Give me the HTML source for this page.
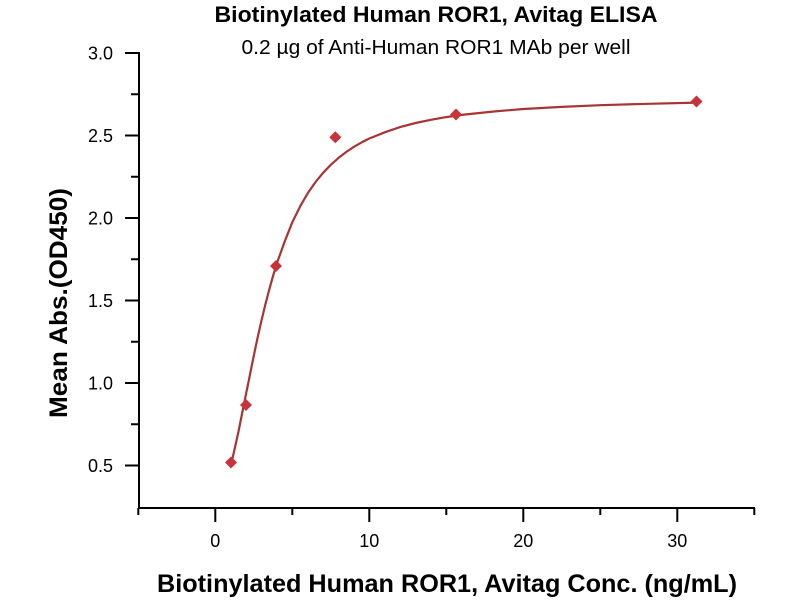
<!DOCTYPE html>
<html>
<head>
<meta charset="utf-8">
<style>
html,body{margin:0;padding:0;background:#fff;}
svg{display:block;}
text{font-family:"Liberation Sans",Arial,sans-serif;fill:#000;}
</style>
</head>
<body>
<svg width="800" height="600" viewBox="0 0 800 600" xmlns="http://www.w3.org/2000/svg">
<rect width="800" height="600" fill="#fff"/>
<!-- Titles -->
<text x="436" y="22" font-size="22" font-weight="bold" text-anchor="middle" textLength="443" lengthAdjust="spacingAndGlyphs">Biotinylated Human ROR1, Avitag ELISA</text>
<text x="436" y="54" font-size="20" text-anchor="middle" textLength="389" lengthAdjust="spacingAndGlyphs">0.2 µg of Anti-Human ROR1 MAb per well</text>

<!-- Axes -->
<g stroke="#000" stroke-width="2" fill="none">
<line x1="139" y1="52" x2="139" y2="509"/>
<line x1="138" y1="508" x2="755" y2="508"/>
<!-- y major ticks -->
<line x1="125" y1="53" x2="139" y2="53"/>
<line x1="125" y1="135.5" x2="139" y2="135.5"/>
<line x1="125" y1="218" x2="139" y2="218"/>
<line x1="125" y1="300.5" x2="139" y2="300.5"/>
<line x1="125" y1="383" x2="139" y2="383"/>
<line x1="125" y1="465.5" x2="139" y2="465.5"/>
<!-- y minor ticks -->
<line x1="131" y1="94.25" x2="139" y2="94.25"/>
<line x1="131" y1="176.75" x2="139" y2="176.75"/>
<line x1="131" y1="259.25" x2="139" y2="259.25"/>
<line x1="131" y1="341.75" x2="139" y2="341.75"/>
<line x1="131" y1="424.25" x2="139" y2="424.25"/>
<!-- x major ticks -->
<line x1="215.3" y1="508" x2="215.3" y2="522"/>
<line x1="369.3" y1="508" x2="369.3" y2="522"/>
<line x1="523.3" y1="508" x2="523.3" y2="522"/>
<line x1="677.3" y1="508" x2="677.3" y2="522"/>
<!-- x minor ticks -->
<line x1="138.3" y1="508" x2="138.3" y2="515"/>
<line x1="292.3" y1="508" x2="292.3" y2="515"/>
<line x1="446.3" y1="508" x2="446.3" y2="515"/>
<line x1="600.3" y1="508" x2="600.3" y2="515"/>
<line x1="754.3" y1="508" x2="754.3" y2="515"/>
</g>

<!-- Y tick labels -->
<g font-size="18" text-anchor="end">
<text x="113" y="59.5">3.0</text>
<text x="113" y="142">2.5</text>
<text x="113" y="224.5">2.0</text>
<text x="113" y="307">1.5</text>
<text x="113" y="389.5">1.0</text>
<text x="113" y="472">0.5</text>
</g>
<!-- X tick labels -->
<g font-size="18" text-anchor="middle">
<text x="215.3" y="547">0</text>
<text x="369.3" y="547">10</text>
<text x="523.3" y="547">20</text>
<text x="677.3" y="547">30</text>
</g>

<!-- Axis titles -->
<text x="447" y="592" font-size="25" font-weight="bold" text-anchor="middle" textLength="580" lengthAdjust="spacingAndGlyphs">Biotinylated Human ROR1, Avitag Conc. (ng/mL)</text>
<text transform="translate(67,303) rotate(-90)" x="0" y="0" font-size="25" font-weight="bold" text-anchor="middle" textLength="230" lengthAdjust="spacingAndGlyphs">Mean Abs.(OD450)</text>

<!-- Fitted curve -->
<polyline fill="none" stroke="#a83434" stroke-width="2.2" stroke-linejoin="round" points="
230.7,466.2 234.5,449.5 238.4,432.0 242.2,412.9 246.1,393.6 250.0,374.5 253.8,355.6 257.6,337.6 261.5,320.5 265.3,304.6 269.2,289.8 273.0,276.1 276.9,263.3 284.6,241.7 292.3,222.3 300.0,206.6 307.7,193.3 315.4,182.2 323.1,172.8 330.8,164.8 338.5,157.9 346.2,152.0 353.9,146.8 361.6,142.4 369.3,138.5 384.7,132.3 400.1,127.1 415.5,123.0 430.9,119.8 446.3,117.1 461.7,114.9 492.5,111.6 523.3,109.0 561.8,106.9 600.3,105.2 648.4,103.8 696.6,102.6"/>

<!-- Data markers -->
<g fill="#c8323a">
<polygon points="231,456.5 237,462.5 231,468.5 225,462.5"/>
<polygon points="246,399 252,405 246,411 240,405"/>
<polygon points="276,260 282,266 276,272 270,266"/>
<polygon points="335.3,131.3 341.3,137.3 335.3,143.3 329.3,137.3"/>
<polygon points="456,108.5 462,114.5 456,120.5 450,114.5"/>
<polygon points="696.5,95.5 702.5,101.5 696.5,107.5 690.5,101.5"/>
</g>
</svg>
</body>
</html>
